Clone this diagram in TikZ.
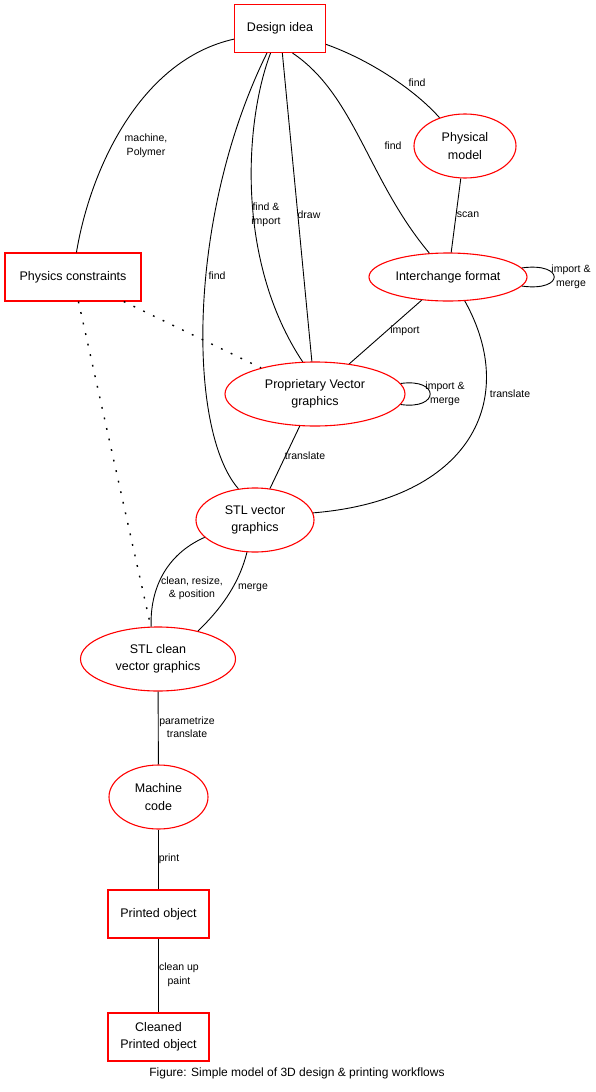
\documentclass[tikz,border=0pt]{standalone}
\usepackage{fontspec}
\setmainfont{Liberation Sans}
\usetikzlibrary{shapes.geometric}
\definecolor{nodered}{RGB}{255,0,0}
\tikzset{
  box/.style={draw=nodered, line width=1.1pt, rectangle, inner sep=0pt, align=center, font=\fontsize{12.5}{17.5}\selectfont},
  oval/.style={draw=nodered, line width=1.1pt, ellipse, inner sep=0pt, align=center, font=\fontsize{12.5}{17.5}\selectfont},
  edge/.style={draw=black, line width=0.9pt},
  dotedge/.style={draw=black, line width=1.4pt, dash pattern=on 1.8pt off 9pt},
  lab/.style={inner sep=0pt, align=center, font=\fontsize{10.5}{13.5}\selectfont},
  caption/.style={inner sep=0pt, font=\fontsize{12}{14}\selectfont}
}
\begin{document}
\begin{tikzpicture}[x=1pt, y=-1pt]
\useasboundingbox (0,0) rectangle (596,1092);
% nodes
\node[box, minimum width=91pt, minimum height=48pt] (design) at (280,28.5) {Design idea};
\node[oval, minimum width=102pt, minimum height=64pt] (phys) at (465,146) {Physical\\model};
\node[oval, minimum width=158pt, minimum height=48pt] (inter) at (448,277) {Interchange format};
\node[box, minimum width=136pt, minimum height=48pt] (constr) at (73,277) {Physics constraints};
\node[oval, minimum width=180pt, minimum height=64pt] (prop) at (315,394) {Proprietary Vector\\graphics};
\node[oval, minimum width=118pt, minimum height=64pt] (stlv) at (255,520) {STL vector\\graphics};
\node[oval, minimum width=155pt, minimum height=64pt] (clean) at (158,659) {STL clean\\vector graphics};
\node[oval, minimum width=99pt, minimum height=64pt] (mach) at (158.5,797) {Machine\\code};
\node[box, minimum width=101pt, minimum height=48pt] (printed) at (158.5,914) {Printed object};
\node[box, minimum width=101pt, minimum height=48pt] (cleaned) at (158.5,1037) {Cleaned\\Printed object};
\node[caption] (cap) at (297,1073) {Figure: Simple model of 3D design \& printing workflows};
% edges
\draw[edge] (design.193) .. controls (140,60) and (90,170) .. (constr.82)
  node[lab] (l1) at (146,146) {machine,\\Polymer};
\draw[edge] (design.-19) .. controls (370,60) and (415,90) .. (phys.132)
  node[lab] (l2) at (417,83) {find};
\draw[edge] (design.-63) .. controls (355,95) and (368,180) .. (inter.128)
  node[lab] (l3) at (393,146) {find};
\draw[edge] (phys) -- (inter)
  node[lab] (l4) at (468,215) {scan};
\draw[edge] (design) -- (prop)
  node[lab] (l5) at (309,215) {draw};
\draw[edge] (design.-111) .. controls (245,120) and (235,260) .. (prop.111)
  node[lab] (l6) at (266,215) {find \&\\import};
\draw[edge] (design.242) .. controls (187,215) and (187,430) .. (stlv.118)
  node[lab] (l7) at (217,276) {find};
\draw[edge] (inter) -- (prop)
  node[lab] (l8) at (405,331) {import};
\draw[edge] (inter.305) .. controls (520,400) and (470,500) .. (stlv.7)
  node[lab] (l9) at (510,394) {translate};
\draw[edge] (prop) -- (stlv)
  node[lab] (l10) at (305,456) {translate};
\draw[edge] (inter.7) .. controls (565,262) and (565,292) .. (inter.-7)
  node[lab] (l11) at (571,277) {import \&\\merge};
\draw[edge] (prop.7) .. controls (440,378) and (440,410) .. (prop.-7)
  node[lab] (l12) at (445,394) {import \&\\merge};
\draw[dotedge] (constr) -- (prop);
\draw[dotedge] (constr) -- (clean);
\draw[edge] (stlv.199) .. controls (165,555) and (150,590) .. (clean.102)
  node[lab] (l13) at (192,588.5) {clean, resize,\\\& position};
\draw[edge] (stlv.256) .. controls (240,580) and (225,605) .. (clean.35)
  node[lab] (l14) at (253,588) {merge};
\draw[edge] (clean) -- (mach)
  node[lab] (l15) at (187,727) {parametrize\\translate};
\draw[edge] (mach) -- (printed)
  node[lab] (l16) at (169,859) {print};
\draw[edge] (printed) -- (cleaned)
  node[lab] (l17) at (179,975) {clean up\\paint};
\end{tikzpicture}
\end{document}
